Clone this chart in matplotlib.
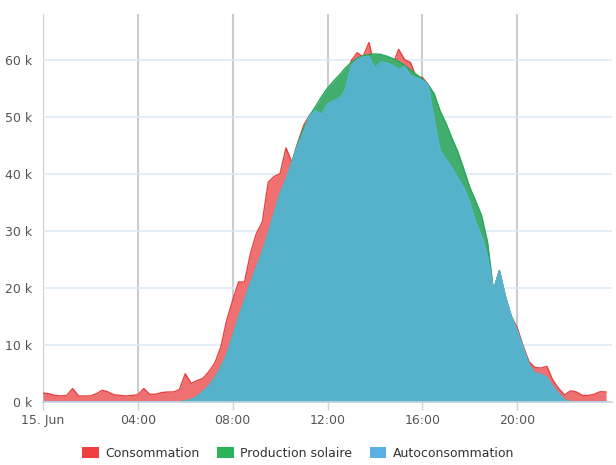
import matplotlib
matplotlib.use("Agg")
import matplotlib.pyplot as plt
from matplotlib.patches import Patch
from matplotlib.ticker import FuncFormatter, MultipleLocator
import numpy as np

# 15-minute steps, 0:00 .. 23:45 (values in kW)
hours = [i / 4 for i in range(96)]

consommation_k = [
    1.5, 1.4, 1.1, 1.0, 1.1, 2.3, 1.0, 1.0,      # 0:00-1:45
    1.0, 1.4, 2.0, 1.7, 1.2, 1.1, 1.0, 1.1,      # 2:00-3:45
    1.2, 2.3, 1.3, 1.3, 1.6, 1.7, 1.7, 2.1,      # 4:00-5:45
    4.9, 3.2, 3.7, 4.1, 5.3, 6.8, 9.6, 14.3,     # 6:00-7:45
    17.8, 21.0, 21.0, 26.0, 29.5, 31.5, 38.5, 39.5,  # 8:00-9:45
    40.0, 44.5, 42.0, 45.5, 48.5, 50.3, 51.0, 50.4,  # 10:00-11:45
    52.2, 52.8, 53.2, 54.7, 59.8, 61.2, 60.5, 63.0,  # 12:00-13:45
    58.5, 59.6, 59.4, 59.0, 61.8, 60.0, 59.5, 56.8,  # 14:00-15:45
    56.9, 55.6, 49.5, 44.0, 42.5, 41.0, 39.2, 37.5,  # 16:00-17:45
    35.0, 31.5, 29.0, 25.5, 19.5, 23.0, 18.5, 15.0,  # 18:00-19:45
    13.0, 9.8, 7.0, 6.0, 5.9, 6.2, 3.8, 2.3,     # 20:00-21:45
    1.2, 1.9, 1.7, 1.1, 1.1, 1.3, 1.75, 1.7,     # 22:00-23:45
]

production_k = [
    0, 0, 0, 0, 0, 0, 0, 0,
    0, 0, 0, 0, 0, 0, 0, 0,
    0, 0, 0, 0, 0, 0, 0, 0,
    0.1, 0.4, 0.9, 1.8, 2.8, 4.2, 6.0, 8.3,
    11.5, 14.8, 17.8, 20.8, 23.5, 26.3, 29.5, 33.0,
    36.5, 39.0, 42.0, 45.3, 48.0, 50.2, 51.8, 53.5,
    55.0, 56.2, 57.3, 58.5, 59.5, 60.2, 60.7, 60.9,
    61.0, 60.9, 60.6, 60.2, 59.7, 59.0, 58.2, 57.4,
    56.6, 55.6, 54.0, 51.0, 48.8, 46.2, 43.8, 40.8,
    37.6, 35.2, 32.6, 28.0, 19.5, 23.0, 18.5, 15.0,
    12.5, 9.5, 6.5, 5.0, 4.8, 4.3, 2.7, 1.4,
    0.3, 0.0, 0, 0, 0, 0, 0, 0,
]

autoconsommation_k = [
    0, 0, 0, 0, 0, 0, 0, 0,
    0, 0, 0, 0, 0, 0, 0, 0,
    0, 0, 0, 0, 0, 0, 0, 0,
    0.1, 0.4, 0.9, 1.8, 2.8, 4.2, 6.0, 8.3,
    11.5, 14.8, 17.8, 20.8, 23.5, 26.3, 29.5, 33.0,
    36.5, 39.0, 42.0, 45.0, 47.5, 50.2, 51.0, 50.4,
    52.2, 52.8, 53.2, 54.7, 59.0, 60.0, 60.5, 60.5,
    58.5, 59.6, 59.4, 59.0, 58.3, 58.8, 57.2, 56.8,
    56.4, 55.5, 49.5, 44.0, 42.5, 41.0, 39.2, 37.5,
    35.0, 31.5, 29.0, 25.5, 19.5, 23.0, 18.5, 15.0,
    12.5, 9.5, 6.5, 5.0, 4.8, 4.3, 2.7, 1.4,
    0.3, 0.0, 0, 0, 0, 0, 0, 0,
]

series_names = ["Consommation", "Production solaire", "Autoconsommation"]
x_tick_hours = [0, 4, 8, 12, 16, 20]
x_tick_labels = ["15. Jun", "04:00", "08:00", "12:00", "16:00", "20:00"]

fill_colors = ["#ef7070", "#43ad6d", "#56b1ca"]
line_colors = ["#e8403f", "#26a65a", "#5ab6d8"]
legend_colors = ["#ee4040", "#2ab35a", "#5ab0e2"]

x = np.array(hours)
data = [np.array(consommation_k) * 1000,
        np.array(production_k) * 1000,
        np.array(autoconsommation_k) * 1000]

fig = plt.figure(figsize=(6.16, 4.65), dpi=100)
ax = fig.add_axes([43 / 616, 1 - 401.7 / 465, (612 - 43) / 616, (401.7 - 14) / 465])

for i, y in enumerate(data):
    ax.fill_between(x, 0, y, color=fill_colors[i], lw=0, zorder=2 + i)
    ax.plot(x, y, color=line_colors[i], lw=1.0, zorder=2.5 + i)

ax.set_xlim(0, 24)
ax.set_ylim(0, 68000)

ax.set_xticks(x_tick_hours)
ax.set_xticklabels(x_tick_labels)
ax.yaxis.set_major_locator(MultipleLocator(10000))
ax.yaxis.set_major_formatter(FuncFormatter(lambda v, p: f"{int(v/1000)} k"))

for s in ["top", "right", "left"]:
    ax.spines[s].set_visible(False)
ax.spines["bottom"].set_color("#c5d5e5")
ax.spines["bottom"].set_linewidth(1.2)
ax.spines["bottom"].set_zorder(10)

# gridlines
for h in x_tick_hours:
    ax.axvline(h, color="#cccccc", lw=1.5, zorder=1)
for v in range(10000, 70000, 10000):
    ax.axhline(v, color="#dbe9f6", lw=1.1, zorder=1)

ax.tick_params(axis="x", colors="#c5d5e5", length=6, width=1, labelcolor="#555555",
               labelsize=9, pad=3)
ax.tick_params(axis="y", length=0, labelcolor="#555555", labelsize=9, pad=8)

handles = [Patch(facecolor=c, edgecolor="none") for c in legend_colors]
fig.legend(handles, series_names, loc="center", bbox_to_anchor=(298 / 616, 1 - 453 / 465),
           ncol=3, frameon=False, fontsize=9, handlelength=1.35, handleheight=1.0,
           handletextpad=0.5, columnspacing=1.4, labelcolor="#333333")

fig.savefig("out.png", dpi=100)
